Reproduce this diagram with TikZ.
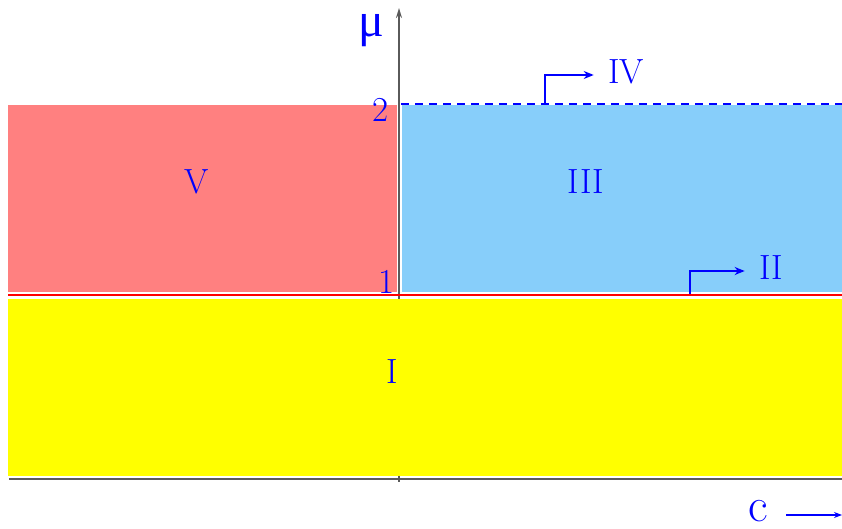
\documentclass[tikz,border=0pt]{standalone}
\usepackage{amsmath,amssymb}
\usepackage{fontspec}
\usepackage{tikz}
\usepackage{xcolor}
\usetikzlibrary{arrows.meta,calc}
\newfontfamily\greekfont{Liberation Serif}
\definecolor{redreg}{RGB}{255,128,128}
\definecolor{bluereg}{RGB}{135,206,250}
\definecolor{yellowreg}{RGB}{255,255,0}
\definecolor{labelblue}{RGB}{0,0,255}
\definecolor{axisgray}{RGB}{90,90,90}

\tikzset{
  reglabel/.style={text=labelblue, font=\fontsize{17.5}{21}\selectfont, inner sep=1pt},
  biglabel/.style={text=labelblue, font=\fontsize{24}{28}\selectfont, inner sep=1pt},
  jump/.style={labelblue, line width=1pt, -{Stealth[length=5pt,width=4pt]}},
  axisline/.style={axisgray, line width=0.8pt}
}

\begin{document}
\begin{tikzpicture}[x=0.5pt, y=-0.5pt, >=Stealth]
    \useasboundingbox (0,0) rectangle (842,529);

    % Axes (the yellow region is painted over the vertical one)
    \draw[axisline] (9,479) -- (842,479);
    \draw[axisline, -{Stealth[length=5pt,width=3pt]}] (399,482) -- (399,8);

    % Filled regions
    \fill[yellowreg] (8,299) rectangle (842,476);
    \fill[redreg] (8,105) rectangle (397,292);
    \fill[bluereg] (402,105) rectangle (842,292);

    % Line mu = 1 and dashed line mu = 2
    \draw[red, line width=1pt] (8,295) -- (842,295);
    \draw[labelblue, line width=1.2pt, dash pattern=on 4pt off 3pt] (401,104) -- (842,104);

    % Axis labels and ticks
    \node[biglabel] (mu) at (371,31) {\greekfont μ};
    \node[reglabel] (two) at (381,110) {2};
    \node[reglabel] (one) at (387,282) {1};
    \node[biglabel] (c) at (758,511) {c};
    \coordinate (cend) at (842,515);
    \draw[labelblue, line width=0.6pt, -{Stealth[length=4pt,width=3pt]}] ($(c.east)+(16,4)$) -- (cend);

    % Region labels
    \node[reglabel] (V) at (197,182) {V};
    \node[reglabel] (III) at (586,182) {III};
    \node[reglabel] (I) at (392,372) {I};
    \node[reglabel] (IV) at (626,72) {IV};
    \node[reglabel] (II) at (771,268) {II};

    % Jumps to IV and II
    \coordinate (ivfoot) at (545,104);
    \coordinate (iifoot) at (690,294);
    \draw[jump] (ivfoot) |- ($(IV.west)+(-12,3)$);
    \draw[jump] (iifoot) |- ($(II.west)+(-12,3)$);
\end{tikzpicture}
\end{document}
